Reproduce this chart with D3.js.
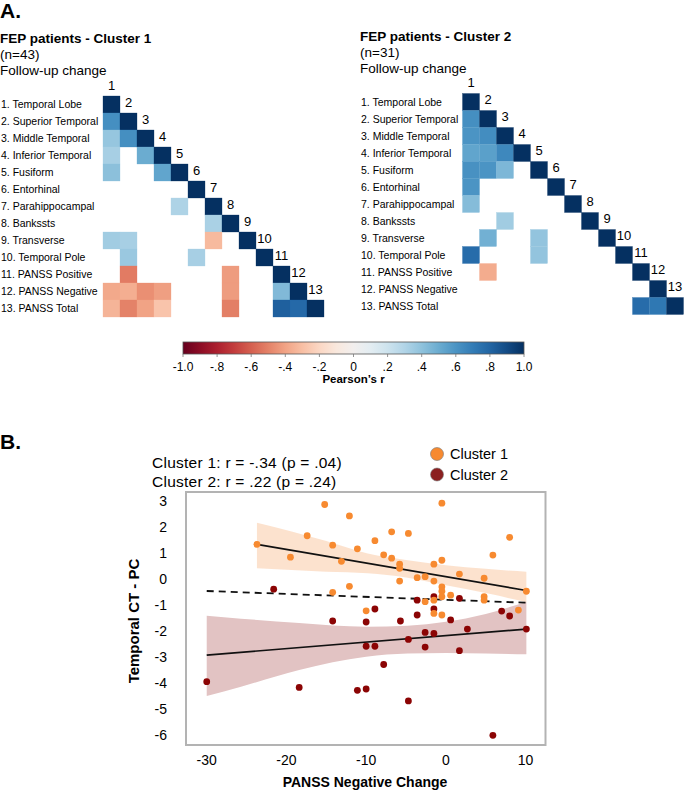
<!DOCTYPE html>
<html><head><meta charset="utf-8">
<script src="https://cdn.jsdelivr.net/npm/d3@7"></script>
<style>body{margin:0;background:#fff}svg{display:block;font-family:"Liberation Sans",Arial,Helvetica,sans-serif}</style>
</head><body>
<svg id="c" width="685" height="791"></svg>
<script>
// ---------- DATA ----------
const regionLabels = ["1. Temporal Lobe","2. Superior Temporal","3. Middle Temporal","4. Inferior Temporal","5. Fusiform","6. Entorhinal","7. Parahippocampal","8. Bankssts","9. Transverse","10. Temporal Pole","11. PANSS Positive","12. PANSS Negative","13. PANSS Total"];
const N = null;
const cluster1Matrix = [
  [1],
  [0.62,1],
  [0.38,0.62,1],
  [0.33,N,0.50,1],
  [0.41,N,N,0.53,1],
  [N,N,N,N,N,1],
  [N,N,N,N,0.31,N,1],
  [N,N,N,N,N,N,0.32,1],
  [0.35,0.33,N,N,N,N,-0.32,N,1],
  [N,0.37,N,N,N,0.33,N,N,N,1],
  [N,-0.52,N,N,N,N,N,-0.42,N,N,1],
  [-0.38,-0.36,-0.46,-0.41,N,N,N,-0.42,N,N,0.44,1],
  [-0.34,-0.50,-0.40,-0.28,N,N,N,-0.51,N,N,0.82,0.78,1]
];
const cluster2Matrix = [
  [1],
  [0.62,1],
  [0.60,0.63,1],
  [0.53,0.55,0.65,1],
  [0.61,0.60,0.45,N,1],
  [0.60,N,N,N,N,1],
  [0.43,N,N,N,N,N,1],
  [N,N,0.35,N,N,N,N,1],
  [N,0.48,N,N,0.39,N,N,N,1],
  [0.77,N,N,N,0.39,N,N,N,N,1],
  [N,-0.37,N,N,N,N,N,N,N,N,1],
  [N,N,N,N,N,N,N,N,N,N,N,1],
  [N,N,N,N,N,N,N,N,N,N,0.77,0.72,1]
];
const colorbarTicks = [-1,-0.8,-0.6,-0.4,-0.2,0,0.2,0.4,0.6,0.8,1];
const colorbarTickLabels = ["-1.0","-.8","-.6","-.4","-.2","0",".2",".4",".6",".8","1.0"];

// scatter data: PANSS negative change (x), temporal CT-PC (y)
const c1x = [-23.7,-19.5,-17.4,-15.2,-14.2,-13.1,-14.2,-12.1,-12.1,-11.1,-10.0,-8.9,-7.8,-6.8,-6.8,-5.8,-5.8,-5.8,-4.7,-3.6,-2.6,-2.6,-1.5,-1.5,-1.5,-1.5,-0.5,-0.5,-0.5,-0.5,-0.5,-0.5,0.6,1.7,4.8,4.8,4.8,5.9,8.0,9.1,10.1];
const c1y = [1.32,0.83,1.65,2.85,1.29,0.67,-0.52,2.41,-0.29,1.15,-1.23,1.46,0.92,1.80,0.79,0.56,0.40,-0.09,1.74,0.04,0.08,-0.88,0.56,-0.09,-0.82,-1.33,2.90,0.71,-0.31,-0.48,-0.69,-1.39,-0.63,0.18,0.02,-0.69,-0.82,0.91,1.59,-1.20,-0.48];
const c2x = [-30.0,-21.6,-18.4,-14.2,-11.1,-10.0,-10.0,-10.0,-8.9,-8.9,-7.8,-5.7,-4.7,-4.7,-3.6,-3.6,-2.6,-2.6,-1.5,-1.5,-1.5,0.6,1.7,1.7,2.7,5.9,7.0,8.0,10.1];
const c2y = [-3.95,-0.40,-4.17,-1.62,-4.28,-1.66,-2.59,-4.23,-1.16,-2.59,-3.29,-1.62,-2.33,-4.69,-0.82,-1.39,-2.06,-2.62,-0.69,-1.16,-2.10,-1.58,-0.75,-2.76,-1.93,-6.01,-1.24,-1.43,-1.93];
// fitted lines (endpoints) and confidence bands
const fit1 = {x:[-23.7,10.1], y:[1.32,-0.45]};
const fit2 = {x:[-30,10.1], y:[-2.93,-1.93]};
const fitAll = {x:[-30,10.1], y:[-0.47,-0.92]};
const band1x = [-23.7,-15,-9.8,-5,0,5,10.1];
const band1hi = [2.15,1.45,0.97,0.72,0.52,0.38,0.27];
const band1lo = [0.40,0.27,0.21,0.05,-0.25,-0.55,-0.90];
const band2x = [-30,-25.7,-18.4,-10,-4.8,0,5,10.1];
const band2hi = [-1.42,-1.53,-1.70,-1.84,-1.80,-1.65,-1.35,-0.88];
const band2lo = [-4.50,-4.14,-3.50,-2.99,-2.87,-2.85,-2.87,-2.90];
const xTicks = [-30,-20,-10,0,10];
const yTicks = [3,2,1,0,-1,-2,-3,-4,-5,-6];
const statsText = ["Cluster 1: r = -.34 (p = .04)","Cluster 2: r = .22 (p = .24)"];
const legendNames = ["Cluster 1","Cluster 2"];

// ---------- DRAW ----------
const svg = d3.select("#c");
const color = d3.scaleSequential(d3.interpolateRdBu).domain([-1,1]);

svg.append("text").attr("x",0).attr("y",18).attr("font-size",21).attr("font-weight","bold").text("A.");

function heatmap(mat, x0, y0, titleX, titleY, title, nText){
  const n = regionLabels.length;
  const band = d3.scaleBand().domain(d3.range(n)).range([0, 17*n]);
  const g = svg.append("g");
  g.append("text").attr("x",titleX).attr("y",titleY).attr("font-size",13.5).attr("font-weight","bold").text(title);
  g.append("text").attr("x",titleX).attr("y",titleY+16).attr("font-size",13.5).text(nText);
  g.append("text").attr("x",titleX).attr("y",titleY+32).attr("font-size",13.5).text("Follow-up change");
  const cells = [];
  mat.forEach((row,i)=>row.forEach((v,j)=>{ if(v!==null) cells.push({i,j,v}); }));
  g.selectAll("rect.cell").data(cells).join("rect")
    .attr("x",d=>x0+band(d.j)).attr("y",d=>y0+band(d.i))
    .attr("width",band.bandwidth()).attr("height",band.bandwidth())
    .attr("fill",d=>color(d.v)).attr("stroke",d=>color(d.v)).attr("stroke-width",0.3);
  g.selectAll("text.lab").data(regionLabels).join("text")
    .attr("x",titleX+1).attr("y",(d,i)=>y0+band(i)+band.bandwidth()/2+3.8)
    .attr("font-size",10.5).text(d=>d);
  g.selectAll("text.num").data(regionLabels).join("text")
    .attr("x",(d,i)=>x0+band(i)+band.bandwidth()/2).attr("y",(d,i)=>y0+band(i)-6.5)
    .attr("text-anchor","middle").attr("font-size",13).text((d,i)=>i+1);
}
heatmap(cluster1Matrix, 103, 96, 0, 43, "FEP patients - Cluster 1", "(n=43)");
heatmap(cluster2Matrix, 462.5, 93.5, 360, 41, "FEP patients - Cluster 2", "(n=31)");

// colorbar
const cbX = d3.scaleLinear().domain([-1,1]).range([183,524]);
const defs = svg.append("defs");
const grad = defs.append("linearGradient").attr("id","cb");
d3.range(0,1.0001,0.05).forEach(t=>grad.append("stop").attr("offset",t).attr("stop-color",color(-1+2*t)));
svg.append("rect").attr("x",183).attr("y",342).attr("width",341).attr("height",12).attr("fill","url(#cb)").attr("stroke","#555").attr("stroke-width",0.8);
svg.selectAll("line.cbt").data(colorbarTicks).join("line").attr("x1",d=>cbX(d)).attr("x2",d=>cbX(d)).attr("y1",354).attr("y2",357).attr("stroke","#777").attr("stroke-width",0.8);
svg.selectAll("text.cbl").data(colorbarTicks).join("text").attr("x",d=>cbX(d)).attr("y",370.5).attr("text-anchor","middle").attr("font-size",12).text((d,i)=>colorbarTickLabels[i]);
svg.append("text").attr("x",353.5).attr("y",382.5).attr("text-anchor","middle").attr("font-size",11.5).attr("font-weight","bold").text("Pearson\u2019s r");

// panel B
svg.append("text").attr("x",0).attr("y",449).attr("font-size",21).attr("font-weight","bold").text("B.");
const x = d3.scaleLinear().domain([-32.6,12.5]).range([186,545.5]);
const y = d3.scaleLinear().domain([-6.38,3.33]).range([745,492]);

const area = (xs,lo,hi)=>d3.area().x((d,i)=>x(xs[i])).y0((d,i)=>y(lo[i])).y1((d,i)=>y(hi[i])).curve(d3.curveMonotoneX)(xs);
svg.append("path").attr("d",area(band2x,band2lo,band2hi)).attr("fill","#e2c3c3");
svg.append("path").attr("d",area(band1x,band1lo,band1hi)).attr("fill","#fbd8bd").attr("fill-opacity",0.75);

const ln = d3.line().x(d=>x(d[0])).y(d=>y(d[1]));
svg.append("path").attr("d",ln(fitAll.x.map((v,i)=>[v,fitAll.y[i]]))).attr("stroke","#111").attr("stroke-width",1.8).attr("stroke-dasharray","7,5").attr("fill","none");
svg.append("path").attr("d",ln(fit1.x.map((v,i)=>[v,fit1.y[i]]))).attr("stroke","#111").attr("stroke-width",1.7).attr("fill","none");
svg.append("path").attr("d",ln(fit2.x.map((v,i)=>[v,fit2.y[i]]))).attr("stroke","#111").attr("stroke-width",1.7).attr("fill","none");

svg.selectAll("circle.p2").data(c2x).join("circle").attr("cx",d=>x(d)).attr("cy",(d,i)=>y(c2y[i])).attr("r",3.4).attr("fill","#8b0404");
svg.selectAll("circle.p1").data(c1x).join("circle").attr("cx",d=>x(d)).attr("cy",(d,i)=>y(c1y[i])).attr("r",3.4).attr("fill","#f78a30");

svg.append("rect").attr("x",186).attr("y",492).attr("width",359.5).attr("height",253).attr("fill","none").attr("stroke","#b3b3b3").attr("stroke-width",2);

svg.selectAll("text.xt").data(xTicks).join("text").attr("x",d=>x(d)).attr("y",765).attr("text-anchor","middle").attr("font-size",14).text(d=>d);
svg.selectAll("text.yt").data(yTicks).join("text").attr("x",167).attr("y",d=>y(d)+5).attr("text-anchor","end").attr("font-size",14).text(d=>d);
svg.append("text").attr("x",365).attr("y",787).attr("text-anchor","middle").attr("font-size",14).attr("font-weight","bold").text("PANSS Negative Change");
svg.append("text").attr("transform","translate(138.5,621) rotate(-90)").attr("text-anchor","middle").attr("font-size",15).attr("font-weight","bold").text("Temporal CT - PC");

svg.selectAll("text.st").data(statsText).join("text").attr("x",152).attr("y",(d,i)=>468+i*19).attr("font-size",15.5).attr("letter-spacing",0.25).text(d=>d);
const legCol = ["#f78a30","#8b2020"];
svg.selectAll("circle.lg").data(legendNames).join("circle").attr("cx",437).attr("cy",(d,i)=>454+i*20.5).attr("r",6.5).attr("fill",(d,i)=>legCol[i]).attr("stroke","#777").attr("stroke-width",0.6);
svg.selectAll("text.lg").data(legendNames).join("text").attr("x",450).attr("y",(d,i)=>459+i*20.5).attr("font-size",14.5).text(d=>d);
</script>
</body></html>
